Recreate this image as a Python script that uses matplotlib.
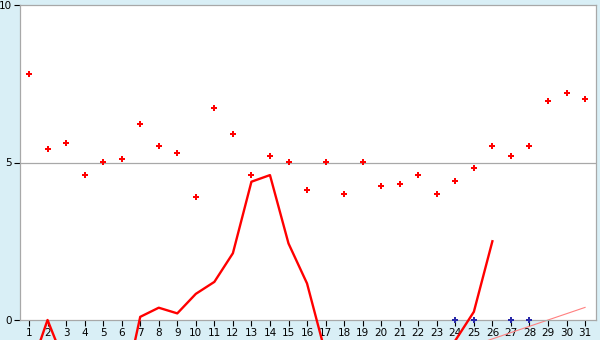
import matplotlib.pyplot as plt
import numpy as np

# dias del mes
dias = np.arange(1, 32)

# valores diarios (puntos rojos)
puntos = [7.8, 5.43, 5.62, 4.6, 5.02, 5.11, 6.22, 5.52, 5.3, 3.9,
          6.73, 5.9, 4.6, 5.21, 5.02, 4.13, 5.02, 4.0, 5.02, 4.25,
          4.32, 4.6, 4.0, 4.41, 4.82, 5.51, 5.2, 5.51, 6.95, 7.2, 7.02]

# curva roja (valores negativos quedan fuera del area visible)
curva = [-1.7, 0.0, -1.48, np.nan, np.nan, -2.6, 0.1, 0.39, 0.21, 0.83,
         1.21, 2.12, 4.39, 4.6, 2.43, 1.16, -1.07, np.nan, np.nan, np.nan,
         np.nan, np.nan, np.nan, -0.65, 0.26, 2.5, np.nan, np.nan, np.nan, np.nan, np.nan]

# tendencia (linea rosa)
tend_x = [25, 31]
tend_y = [-0.8, 0.4]

# marcas azules en cero
azul_x = [24, 25, 27, 28]
azul_y = [0, 0, 0, 0]

fondo = "#d9eff6"
gris = "#a8a8a8"

fig = plt.figure(figsize=(6, 3.4), dpi=100, facecolor=fondo)
ax = fig.add_axes([20/600, 20/340, 576/600, 315/340])
ax.set_facecolor("white")

ax.axhline(5, color=gris, lw=0.9, zorder=1)

ax.plot(tend_x, tend_y, color="#ff8080", lw=0.8, clip_on=False, zorder=2)
ax.plot(dias, curva, color="red", lw=1.7, clip_on=False, zorder=3)
ax.plot(dias, puntos, ls="none", marker="P", ms=4.5, color="red", mew=0, zorder=4)
ax.plot(azul_x, azul_y, ls="none", marker="P", ms=4, color="#2828a8", mew=0,
        clip_on=False, zorder=5)

ax.set_xlim(0.514, 31.59)
ax.set_ylim(0, 10)
ax.set_xticks(dias)
ax.set_yticks([0, 5, 10])
ax.tick_params(axis="both", direction="out", length=4, width=0.8, color="black",
               labelsize=7.5, pad=2)
# que el 10 quepa arriba
ax.get_yticklabels()[-1].set_verticalalignment("center_baseline")

for lado in ["left", "right", "top", "bottom"]:
    ax.spines[lado].set_color(gris)
    ax.spines[lado].set_linewidth(0.9)

fig.savefig("out.png", dpi=100, facecolor=fondo)
